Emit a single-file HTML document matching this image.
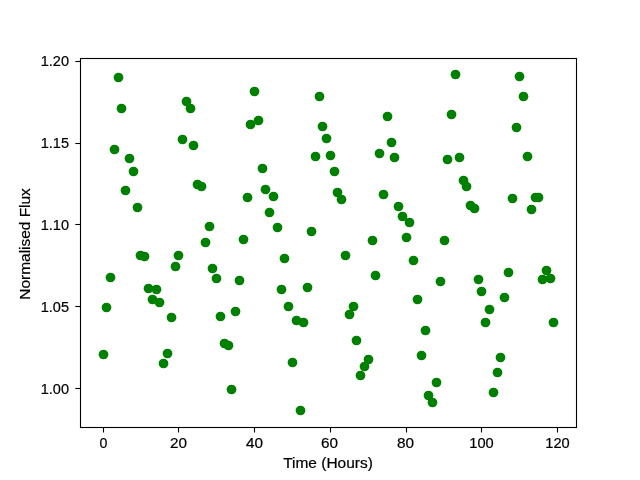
<!DOCTYPE html>
<html><head><meta charset="utf-8"><style>
html,body{margin:0;padding:0;background:#fff;}
body{width:640px;height:480px;overflow:hidden;}
svg{display:block;font-family:"Liberation Sans",sans-serif;will-change:transform;}
</style></head><body>
<svg width="640" height="480" viewBox="0 0 640 480">
<rect x="0" y="0" width="640" height="480" fill="#fff"/>
<g fill="#008000">
<circle cx="103.5" cy="354.5" r="4.86"/>
<circle cx="106.5" cy="307.5" r="4.86"/>
<circle cx="110.5" cy="277.5" r="4.86"/>
<circle cx="114.5" cy="149.5" r="4.86"/>
<circle cx="118.5" cy="77.5" r="4.86"/>
<circle cx="121.5" cy="108.5" r="4.86"/>
<circle cx="125.5" cy="190.5" r="4.86"/>
<circle cx="129.5" cy="158.5" r="4.86"/>
<circle cx="133.5" cy="171.5" r="4.86"/>
<circle cx="137.5" cy="207.5" r="4.86"/>
<circle cx="140.5" cy="255.5" r="4.86"/>
<circle cx="144.5" cy="256.5" r="4.86"/>
<circle cx="148.5" cy="288.5" r="4.86"/>
<circle cx="152.5" cy="299.5" r="4.86"/>
<circle cx="156.5" cy="289.5" r="4.86"/>
<circle cx="159.5" cy="302.5" r="4.86"/>
<circle cx="163.5" cy="363.5" r="4.86"/>
<circle cx="167.5" cy="353.5" r="4.86"/>
<circle cx="171.5" cy="317.5" r="4.86"/>
<circle cx="175.5" cy="266.5" r="4.86"/>
<circle cx="178.5" cy="255.5" r="4.86"/>
<circle cx="182.5" cy="139.5" r="4.86"/>
<circle cx="186.5" cy="101.5" r="4.86"/>
<circle cx="190.5" cy="108.5" r="4.86"/>
<circle cx="193.5" cy="145.5" r="4.86"/>
<circle cx="197.5" cy="184.5" r="4.86"/>
<circle cx="201.5" cy="186.5" r="4.86"/>
<circle cx="205.5" cy="242.5" r="4.86"/>
<circle cx="209.5" cy="226.5" r="4.86"/>
<circle cx="212.5" cy="268.5" r="4.86"/>
<circle cx="216.5" cy="278.5" r="4.86"/>
<circle cx="220.5" cy="316.5" r="4.86"/>
<circle cx="224.5" cy="343.5" r="4.86"/>
<circle cx="228.5" cy="345.5" r="4.86"/>
<circle cx="231.5" cy="389.5" r="4.86"/>
<circle cx="235.5" cy="311.5" r="4.86"/>
<circle cx="239.5" cy="280.5" r="4.86"/>
<circle cx="243.5" cy="239.5" r="4.86"/>
<circle cx="247.5" cy="197.5" r="4.86"/>
<circle cx="250.5" cy="124.5" r="4.86"/>
<circle cx="254.5" cy="91.5" r="4.86"/>
<circle cx="258.5" cy="120.5" r="4.86"/>
<circle cx="262.5" cy="168.5" r="4.86"/>
<circle cx="265.5" cy="189.5" r="4.86"/>
<circle cx="269.5" cy="212.5" r="4.86"/>
<circle cx="273.5" cy="196.5" r="4.86"/>
<circle cx="277.5" cy="227.5" r="4.86"/>
<circle cx="281.5" cy="289.5" r="4.86"/>
<circle cx="284.5" cy="258.5" r="4.86"/>
<circle cx="288.5" cy="306.5" r="4.86"/>
<circle cx="292.5" cy="362.5" r="4.86"/>
<circle cx="296.5" cy="320.5" r="4.86"/>
<circle cx="300.5" cy="410.5" r="4.86"/>
<circle cx="303.5" cy="322.5" r="4.86"/>
<circle cx="307.5" cy="287.5" r="4.86"/>
<circle cx="311.5" cy="231.5" r="4.86"/>
<circle cx="315.5" cy="156.5" r="4.86"/>
<circle cx="319.5" cy="96.5" r="4.86"/>
<circle cx="322.5" cy="126.5" r="4.86"/>
<circle cx="326.5" cy="138.5" r="4.86"/>
<circle cx="330.5" cy="155.5" r="4.86"/>
<circle cx="334.5" cy="171.5" r="4.86"/>
<circle cx="337.5" cy="192.5" r="4.86"/>
<circle cx="341.5" cy="199.5" r="4.86"/>
<circle cx="345.5" cy="255.5" r="4.86"/>
<circle cx="349.5" cy="314.5" r="4.86"/>
<circle cx="353.5" cy="306.5" r="4.86"/>
<circle cx="356.5" cy="340.5" r="4.86"/>
<circle cx="360.5" cy="375.5" r="4.86"/>
<circle cx="364.5" cy="366.5" r="4.86"/>
<circle cx="368.5" cy="359.5" r="4.86"/>
<circle cx="372.5" cy="240.5" r="4.86"/>
<circle cx="375.5" cy="275.5" r="4.86"/>
<circle cx="379.5" cy="153.5" r="4.86"/>
<circle cx="383.5" cy="194.5" r="4.86"/>
<circle cx="387.5" cy="116.5" r="4.86"/>
<circle cx="391.5" cy="142.5" r="4.86"/>
<circle cx="394.5" cy="157.5" r="4.86"/>
<circle cx="398.5" cy="206.5" r="4.86"/>
<circle cx="402.5" cy="216.5" r="4.86"/>
<circle cx="406.5" cy="237.5" r="4.86"/>
<circle cx="409.5" cy="222.5" r="4.86"/>
<circle cx="413.5" cy="260.5" r="4.86"/>
<circle cx="417.5" cy="299.5" r="4.86"/>
<circle cx="421.5" cy="355.5" r="4.86"/>
<circle cx="425.5" cy="330.5" r="4.86"/>
<circle cx="428.5" cy="395.5" r="4.86"/>
<circle cx="432.5" cy="402.5" r="4.86"/>
<circle cx="436.5" cy="382.5" r="4.86"/>
<circle cx="440.5" cy="281.5" r="4.86"/>
<circle cx="444.5" cy="240.5" r="4.86"/>
<circle cx="447.5" cy="159.5" r="4.86"/>
<circle cx="451.5" cy="114.5" r="4.86"/>
<circle cx="455.5" cy="74.5" r="4.86"/>
<circle cx="459.5" cy="157.5" r="4.86"/>
<circle cx="463.5" cy="180.5" r="4.86"/>
<circle cx="466.5" cy="186.5" r="4.86"/>
<circle cx="470.5" cy="205.5" r="4.86"/>
<circle cx="474.5" cy="208.5" r="4.86"/>
<circle cx="478.5" cy="279.5" r="4.86"/>
<circle cx="481.5" cy="291.5" r="4.86"/>
<circle cx="485.5" cy="322.5" r="4.86"/>
<circle cx="489.5" cy="309.5" r="4.86"/>
<circle cx="493.5" cy="392.5" r="4.86"/>
<circle cx="497.5" cy="372.5" r="4.86"/>
<circle cx="500.5" cy="357.5" r="4.86"/>
<circle cx="504.5" cy="297.5" r="4.86"/>
<circle cx="508.5" cy="272.5" r="4.86"/>
<circle cx="512.5" cy="198.5" r="4.86"/>
<circle cx="516.5" cy="127.5" r="4.86"/>
<circle cx="519.5" cy="76.5" r="4.86"/>
<circle cx="523.5" cy="96.5" r="4.86"/>
<circle cx="527.5" cy="156.5" r="4.86"/>
<circle cx="531.5" cy="209.5" r="4.86"/>
<circle cx="535.5" cy="197.5" r="4.86"/>
<circle cx="538.5" cy="197.5" r="4.86"/>
<circle cx="542.5" cy="279.5" r="4.86"/>
<circle cx="546.5" cy="270.5" r="4.86"/>
<circle cx="550.5" cy="278.5" r="4.86"/>
<circle cx="553.5" cy="322.5" r="4.86"/>
</g>
<g stroke="#000" stroke-width="1.1" fill="none">
<rect x="80.5" y="58.5" width="496" height="369"/>
<line x1="103.5" y1="427.5" x2="103.5" y2="432.5"/><line x1="178.5" y1="427.5" x2="178.5" y2="432.5"/><line x1="254.5" y1="427.5" x2="254.5" y2="432.5"/><line x1="330.5" y1="427.5" x2="330.5" y2="432.5"/><line x1="406.5" y1="427.5" x2="406.5" y2="432.5"/><line x1="481.5" y1="427.5" x2="481.5" y2="432.5"/><line x1="557.5" y1="427.5" x2="557.5" y2="432.5"/>
<line x1="75.3" y1="388.5" x2="80" y2="388.5"/><line x1="75.3" y1="306.5" x2="80" y2="306.5"/><line x1="75.3" y1="224.5" x2="80" y2="224.5"/><line x1="75.3" y1="143.5" x2="80" y2="143.5"/><line x1="75.3" y1="61.5" x2="80" y2="61.5"/>
</g>
<g font-size="13.9" fill="#000" stroke="#000" stroke-width="0.2">
<text x="103.55" y="448.3" text-anchor="middle" textLength="7.9" lengthAdjust="spacingAndGlyphs">0</text><text x="178.55" y="448.3" text-anchor="middle" textLength="17.0" lengthAdjust="spacingAndGlyphs">20</text><text x="254.55" y="448.3" text-anchor="middle" textLength="17.0" lengthAdjust="spacingAndGlyphs">40</text><text x="329.55" y="448.3" text-anchor="middle" textLength="17.0" lengthAdjust="spacingAndGlyphs">60</text><text x="405.55" y="448.3" text-anchor="middle" textLength="17.0" lengthAdjust="spacingAndGlyphs">80</text><text x="481.55" y="448.3" text-anchor="middle" textLength="24.4" lengthAdjust="spacingAndGlyphs">100</text><text x="557.55" y="448.3" text-anchor="middle" textLength="24.4" lengthAdjust="spacingAndGlyphs">120</text>
<text x="69.0" y="394.0" text-anchor="end" textLength="28.3" lengthAdjust="spacingAndGlyphs">1.00</text><text x="69.0" y="312.0" text-anchor="end" textLength="28.3" lengthAdjust="spacingAndGlyphs">1.05</text><text x="69.0" y="230.0" text-anchor="end" textLength="28.3" lengthAdjust="spacingAndGlyphs">1.10</text><text x="69.0" y="148.0" text-anchor="end" textLength="28.3" lengthAdjust="spacingAndGlyphs">1.15</text><text x="69.0" y="66.0" text-anchor="end" textLength="28.3" lengthAdjust="spacingAndGlyphs">1.20</text>
<text x="328" y="467.5" text-anchor="middle" textLength="89.6" lengthAdjust="spacingAndGlyphs">Time (Hours)</text>
<text transform="translate(30,243.9) rotate(-90)" text-anchor="middle" textLength="111.5" lengthAdjust="spacingAndGlyphs">Normalised Flux</text>
</g>
</svg>
</body></html>
